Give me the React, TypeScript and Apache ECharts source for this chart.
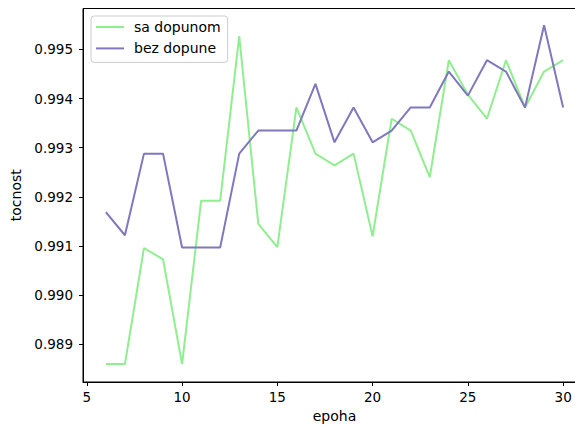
import React, { useEffect, useRef } from "react";
import * as echarts from "echarts";

const epochs = [6, 7, 8, 9, 10, 11, 12, 13, 14, 15, 16, 17, 18, 19, 20, 21, 22, 23, 24, 25, 26, 27, 28, 29, 30];
const saDopunom = [0.98860, 0.98860, 0.99096, 0.99073, 0.98860, 0.99192, 0.99192, 0.99527, 0.99145, 0.99098, 0.99382, 0.99288, 0.99264, 0.99288, 0.99120, 0.99359, 0.99335, 0.99240, 0.99478, 0.99408, 0.99359, 0.99478, 0.99382, 0.99455, 0.99478];
const bezDopune = [0.99169, 0.99122, 0.99288, 0.99288, 0.99097, 0.99097, 0.99097, 0.99288, 0.99335, 0.99335, 0.99335, 0.99430, 0.99311, 0.99382, 0.99311, 0.99335, 0.99382, 0.99382, 0.99455, 0.99406, 0.99478, 0.99455, 0.99382, 0.99549, 0.99382];
const xTicks = [5, 10, 15, 20, 25, 30];
const yTicks = [0.989, 0.99, 0.991, 0.992, 0.993, 0.994, 0.995];
const seriesNames = ["sa dopunom", "bez dopune"];

const FONT = "DejaVu Sans";

export default function App() {
  const ref = useRef<HTMLDivElement>(null);
  useEffect(() => {
    if (!ref.current) return;
    const chart = echarts.init(ref.current, null, { renderer: "svg" });
    const pairs = (ys: number[]) => epochs.map((e, i) => [e, ys[i]]);
    chart.setOption({
      animation: false,
      backgroundColor: "#ffffff",
      textStyle: { fontFamily: FONT },
      grid: {
        left: 83,
        top: 8.5,
        width: 503,
        height: 374,
        show: true,
        borderColor: "#000",
        borderWidth: 1,
        backgroundColor: "transparent",
      },
      legend: {
        orient: "vertical",
        left: 91,
        top: 16,
        icon: "rect",
        itemWidth: 28,
        itemHeight: 2,
        itemGap: 5.4,
        padding: [3, 7, 6, 5],
        backgroundColor: "rgba(255,255,255,0.8)",
        borderColor: "#cccccc",
        borderWidth: 1,
        borderRadius: 3,
        textStyle: { fontFamily: FONT, fontSize: 14, color: "#000", lineHeight: 16, padding: [0, 0, 0, 5] },
        data: seriesNames,
      },
      xAxis: {
        type: "value",
        min: 4.8,
        max: 31.2,
        name: "epoha",
        nameLocation: "middle",
        nameGap: 27,
        nameTextStyle: { fontFamily: FONT, fontSize: 14, color: "#000" },
        axisLine: { show: true, lineStyle: { color: "#000", width: 1 } },
        axisTick: { show: true, inside: false, length: 4, customValues: xTicks, lineStyle: { color: "#000" } },
        axisLabel: { customValues: xTicks, fontFamily: FONT, fontSize: 13.5, color: "#000", margin: 8 },
        splitLine: { show: false },
      },
      yAxis: {
        type: "value",
        min: 0.988235,
        max: 0.995832,
        name: "tocnost",
        nameLocation: "middle",
        nameRotate: 90,
        nameGap: 58,
        nameTextStyle: { fontFamily: FONT, fontSize: 14, color: "#000" },
        axisLine: { show: true, lineStyle: { color: "#000", width: 1 } },
        axisTick: { show: true, inside: false, length: 4, customValues: yTicks, lineStyle: { color: "#000" } },
        axisLabel: {
          customValues: yTicks,
          fontFamily: FONT,
          fontSize: 13.5,
          color: "#000",
          margin: 10,
          formatter: (v: number) => v.toFixed(3),
        },
        splitLine: { show: false },
      },
      series: [
        {
          name: seriesNames[0],
          type: "line",
          data: pairs(saDopunom),
          showSymbol: false,
          symbol: "none",
          lineStyle: { color: "#90ee90", width: 2 },
          itemStyle: { color: "#90ee90" },
        },
        {
          name: seriesNames[1],
          type: "line",
          data: pairs(bezDopune),
          showSymbol: false,
          symbol: "none",
          lineStyle: { color: "#8078be", width: 2 },
          itemStyle: { color: "#8078be" },
        },
      ],
    });
    return () => chart.dispose();
  }, []);
  return (
    <div style={{ position: "fixed", left: 0, top: 0, width: 575, height: 428, overflow: "hidden", background: "#fff" }}>
      <div ref={ref} style={{ width: 620, height: 428 }} />
    </div>
  );
}
